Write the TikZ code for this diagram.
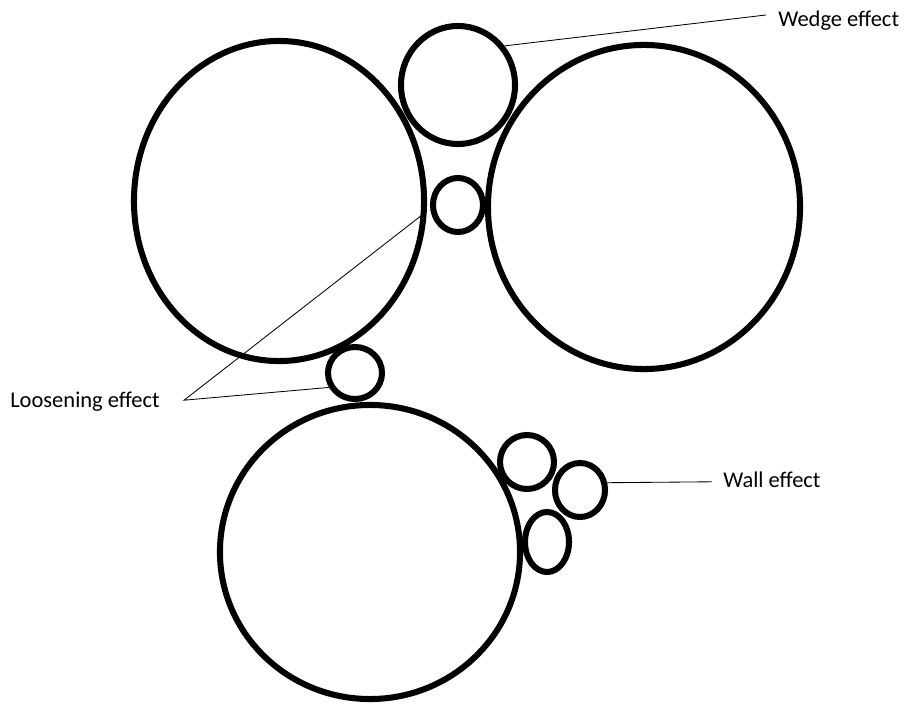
\documentclass[tikz,border=0pt]{standalone}
\usepackage{fontspec}
\setmainfont{Carlito}
\usetikzlibrary{shapes.geometric}
\tikzset{
  grain/.style 2 args={ellipse, draw, line width=4.3pt, inner sep=0pt,
    minimum width=#1cm, minimum height=#2cm},
  lbl/.style={inner sep=0pt, anchor=base west, font=\fontsize{16}{19}\selectfont},
  leader/.style={line width=0.6pt}
}
\begin{document}
\begin{tikzpicture}[x=0.025cm, y=-0.025cm]
  \useasboundingbox (0,0) rectangle (915,708);
  % large grains
  \node[grain={7.25}{8}]    (bigA) at (279,201) {};
  \node[grain={7.8}{8.1}]   (bigB) at (644,207) {};
  \node[grain={7.5}{7.35}]  (bigC) at (370,552) {};
  % small grains
  \node[grain={2.85}{2.95}] (wedge) at (458,85) {};
  \node[grain={1.25}{1.35}] (mid)   at (458,205) {};
  \node[grain={1.35}{1.3}]  (loose) at (355,373) {};
  \node[grain={1.35}{1.35}] (wallA) at (527,462) {};
  \node[grain={1.25}{1.35}] (wallB) at (580,490) {};
  \node[grain={1.1}{1.5}]   (wallC) at (547,542) {};
  % labels
  \node[lbl] (wedgetxt) at (778,27) {Wedge effect};
  \node[lbl] (loosetxt) at (10,407) {Loosening effect};
  \node[lbl] (walltxt)  at (723,487) {Wall effect};
  \draw[leader] (wedge.40) -- ([xshift=-0.3cm,yshift=0.3cm]wedgetxt.base west);
  \draw[leader] (bigA.-4) -- ([xshift=0.6cm,yshift=0.17cm]loosetxt.base east) -- (loose.209);
  \draw[leader] (wallB.15) -- ([xshift=-0.28cm,yshift=0.13cm]walltxt.base west);
\end{tikzpicture}
\end{document}
